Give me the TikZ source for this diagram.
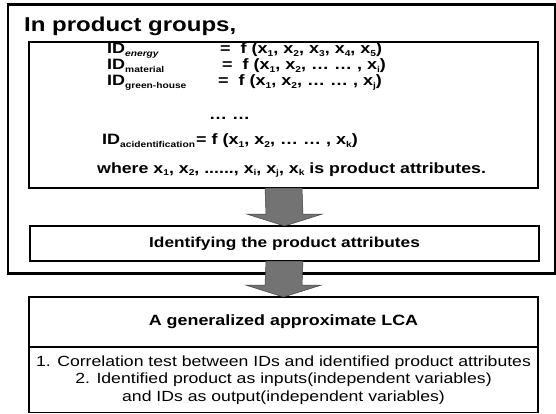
\documentclass[tikz,border=0pt]{standalone}
\usepackage{fontspec}
\setmainfont{Liberation Sans}
\newfontfamily\widefont[FakeStretch=1.2]{Liberation Sans}
\usetikzlibrary{calc}
\newcommand\sbx[1]{\raisebox{-2.5pt}{\fontsize{8.5}{8.5}\selectfont #1}}
\newcommand\blkarrow[2]{%
  \filldraw[arrowfill]
    ($(#1.south)+(-18.5,0)$) -- ($(#2.north)+(-18.5,-12)$) -- ($(#2.north)+(-38,-12)$)
    -- (#2.north) -- ($(#2.north)+(38,-12)$) -- ($(#2.north)+(18.5,-12)$)
    -- ($(#1.south)+(18.5,0)$) -- cycle;}
\tikzset{
  box/.style={draw, line width=1.7pt, inner sep=0pt, outer sep=0pt, minimum width=509pt},
  lcabox/.style={draw, line width=1.3pt, inner sep=0pt, outer sep=0pt, minimum width=509pt},
  outerbox/.style={draw, line width=2.6pt, inner sep=0pt, minimum width=547pt, minimum height=269pt},
  txt/.style={inner sep=0pt, anchor=base west, font=\widefont\bfseries\fontsize{15}{15}\selectfont},
  arrowfill/.style={fill=black!55, draw=black!75, line width=0.5pt},
}
\begin{document}
\begin{tikzpicture}[x=1pt,y=-1pt]
\useasboundingbox (0,0) rectangle (556,414);
\fill[white] (0,0) rectangle (556,414);
% boxes
\node[outerbox] (outer) at (281.5,139) {};
\node[box, minimum height=146pt] (eqbox) at (283.5,115) {};
\node[box, minimum height=35pt, font=\widefont\bfseries\fontsize{14.4}{14.4}\selectfont] (idbox) at (284.5,243.5) {Identifying the product attributes};
\node[lcabox, minimum height=50pt, font=\widefont\bfseries\fontsize{14.9}{14.9}\selectfont] (lcatitle) at (283.5,322) {A generalized approximate LCA};
\node[lcabox, minimum height=65pt, align=center, font=\widefont\fontsize{14.7}{17.5}\selectfont] (lcabody) at (283.5,380)
  {1. Correlation test between IDs and identified product attributes\\
   2. Identified product as inputs(independent variables)\\
   and IDs as output(independent variables)};
% title
\node[txt, font=\widefont\bfseries\fontsize{20}{20}\selectfont] (title) at (24,32) {In product groups,};
% equations
\node[txt] (id1) at (107,54) {ID\sbx{\itshape energy}};
\node[txt] (f1) at (220,54) {=\ \ f (x\sbx{1}, x\sbx{2}, x\sbx{3}, x\sbx{4}, x\sbx{5})};
\node[txt] (id2) at (107,70) {ID\sbx{material}};
\node[txt] (f2) at (222,70) {=\ \ f (x\sbx{1}, x\sbx{2}, … … , x\sbx{i})};
\node[txt] (id3) at (107,86) {ID\sbx{green-house}};
\node[txt] (f3) at (218,86) {=\ \ f (x\sbx{1}, x\sbx{2}, … … , x\sbx{j})};
\node[txt] (dots) at (209,120) {… …};
\node[txt] (id4) at (102,145) {ID\sbx{acidentification}};
\node[txt] (f4) at (196,145) {=\ f (x\sbx{1}, x\sbx{2}, … … , x\sbx{k})};
\node[txt, font=\widefont\bfseries\fontsize{14.8}{14.8}\selectfont] (where) at (97,173)
  {where x\sbx{1}, x\sbx{2}, ......, x\sbx{i}, x\sbx{j}, x\sbx{k} is product attributes.};
% arrows
\blkarrow{eqbox}{idbox}
\blkarrow{idbox}{lcatitle}
\end{tikzpicture}
\end{document}
